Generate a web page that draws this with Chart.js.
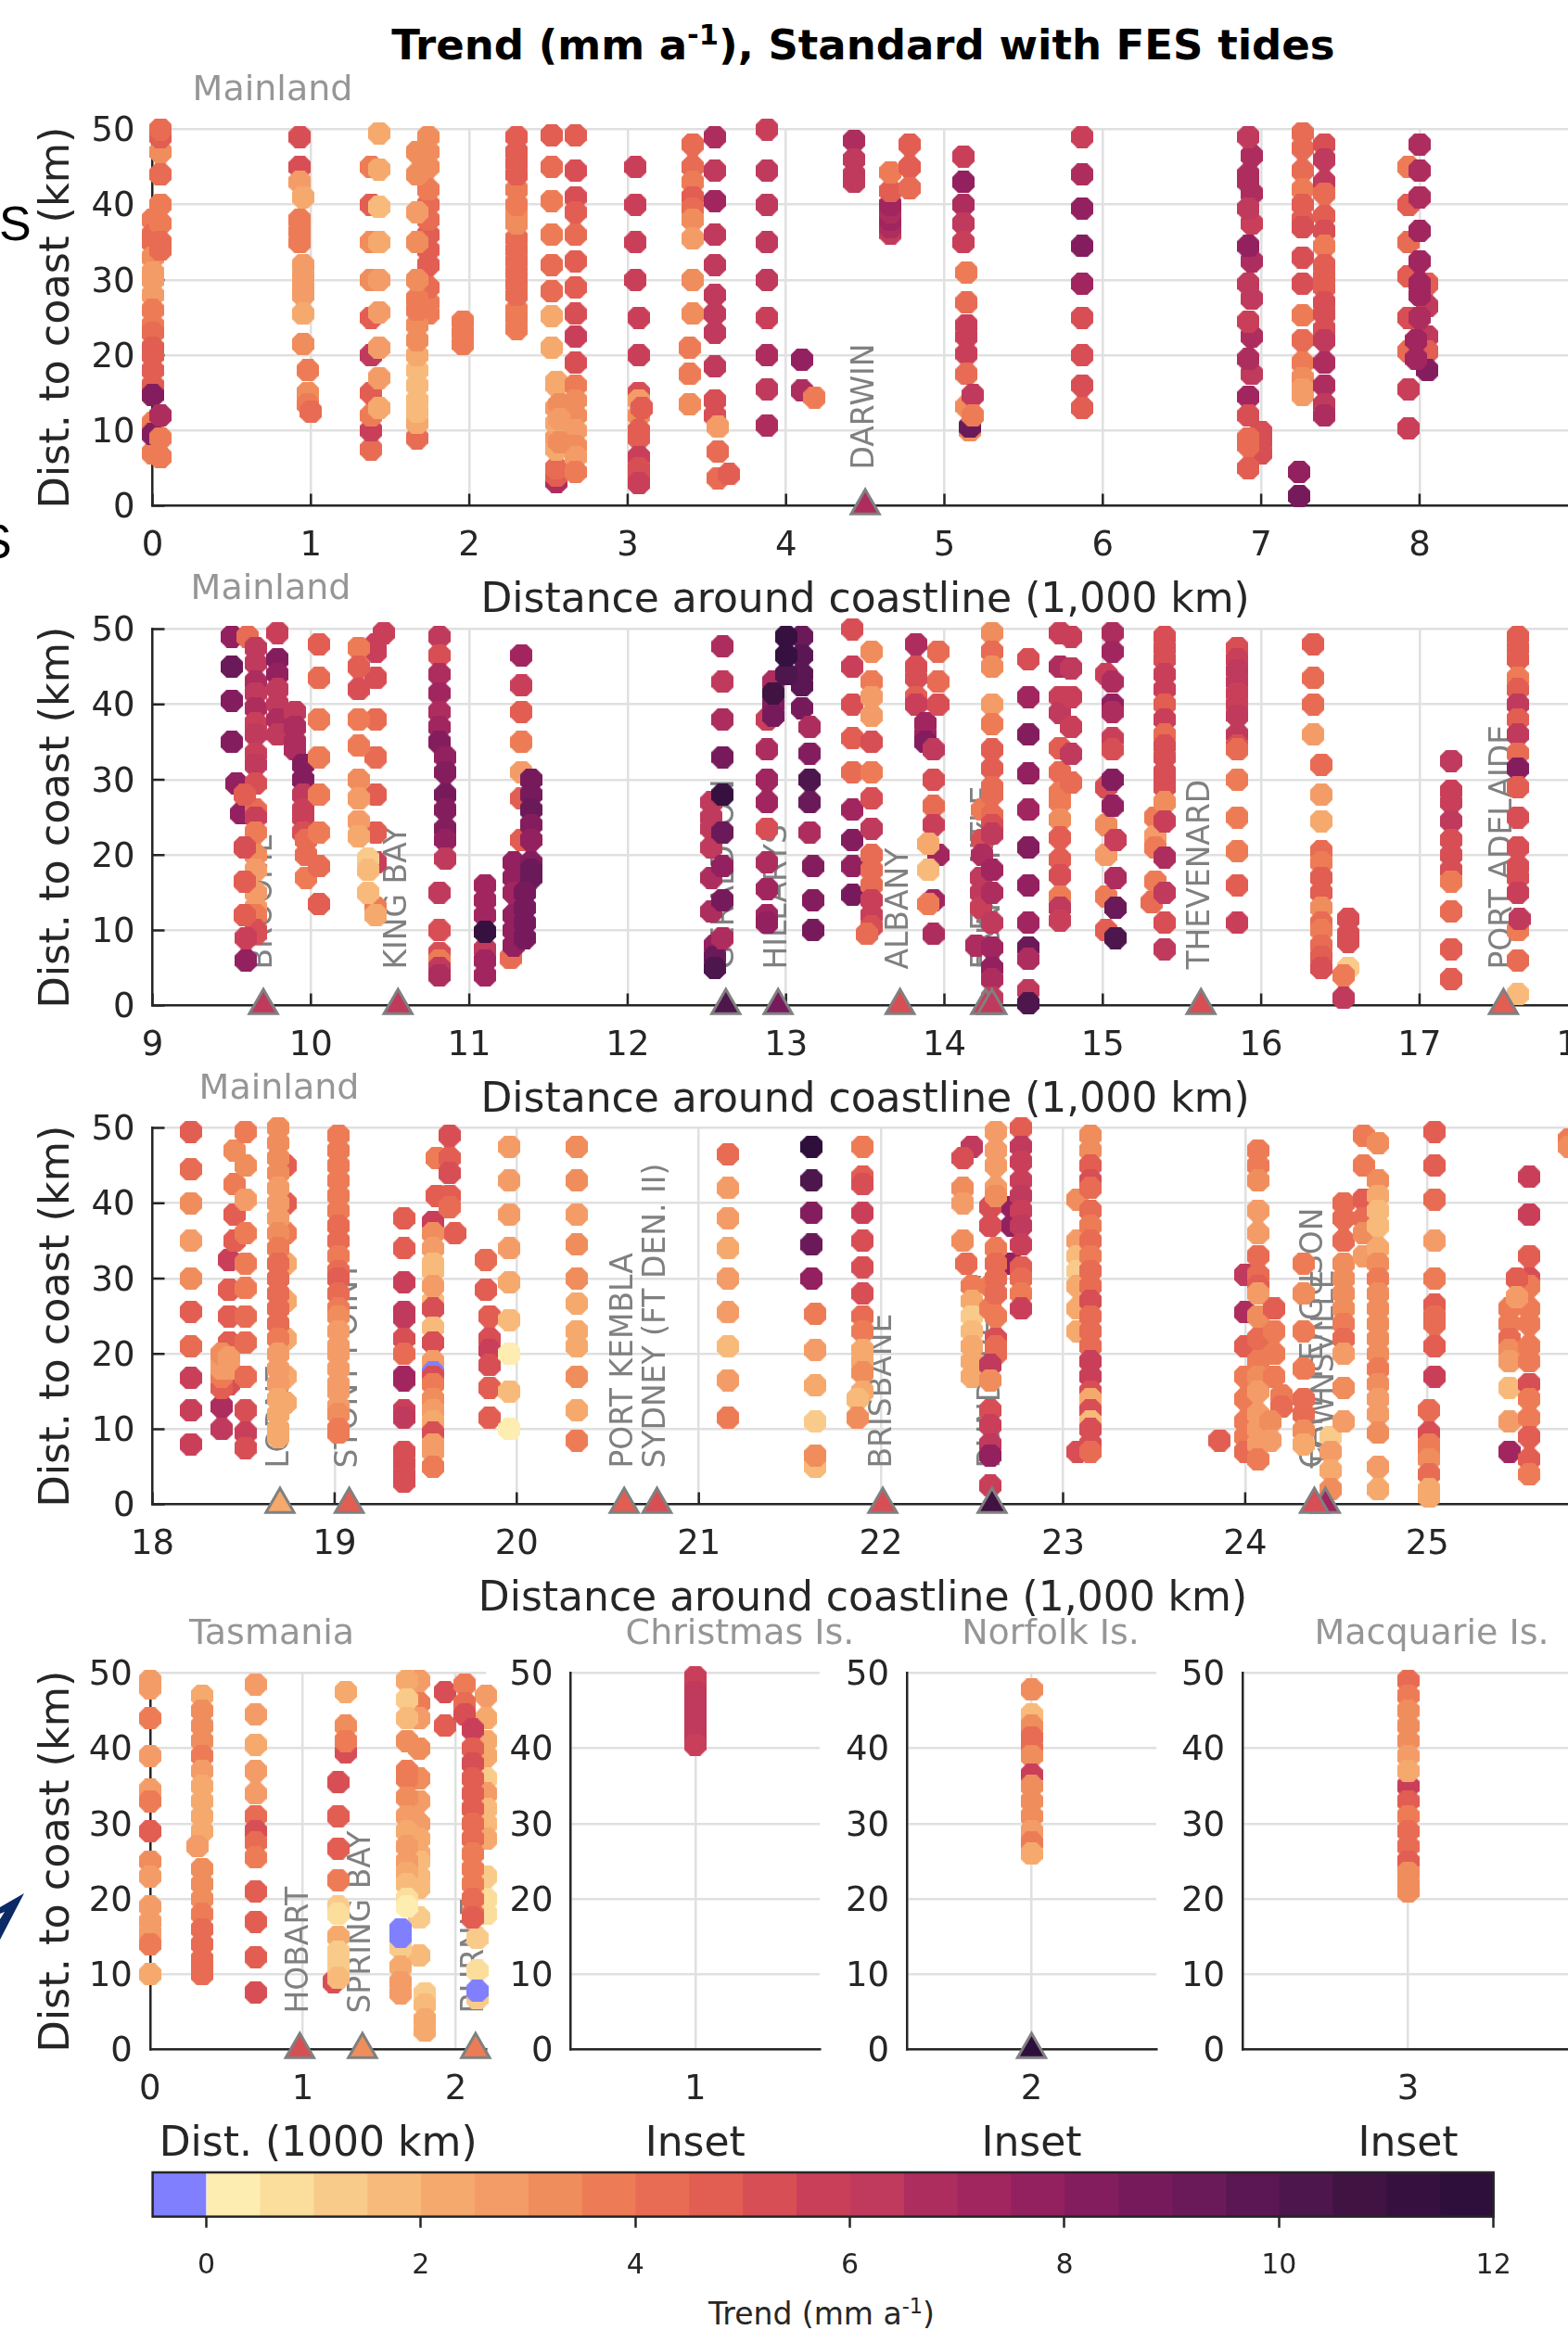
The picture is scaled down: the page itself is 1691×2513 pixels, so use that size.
<!DOCTYPE html>
<html lang="en">
<head>
<meta charset="UTF-8">
<title>Trend (mm a-1), Standard with FES tides</title>
<script src="https://cdn.jsdelivr.net/npm/chart.js@4.4.3/dist/chart.umd.min.js"></script>
<style>
  html, body { margin: 0; padding: 0; background: #fff; overflow: hidden; }
  #page { position: relative; width: 1691px; height: 2513px; overflow: hidden; font-family: 'DejaVu Sans', sans-serif; }
  canvas { position: absolute; }
  .label { position: absolute; white-space: nowrap; line-height: 1; }
  #mainTitle { left: 0; width: 1862px; text-align: center; top: 26px; font-size: 45px; font-weight: 700; color: #000; }
  #mainTitle sup, #trendLabel sup { font-size: 68%; line-height: 0; }
  #trendLabel { left: 0; width: 1772px; text-align: center; top: 2479px; font-size: 33px; color: #262626; }
  .stray { font-family: 'Liberation Sans', sans-serif; font-size: 52px; color: #000; }
</style>
</head>
<body>
<div id="page">
  <div class="label" id="mainTitle">Trend (mm a<sup>-1</sup>), Standard with FES tides</div>
  <div class="label stray" style="left:-1px;top:215px">S</div>
  <div class="label stray" style="left:-22px;top:558px">S</div>
  <svg style="position:absolute;left:0;top:2040px" width="30" height="56"><polygon points="26,2 0,52 0,30 5,22 0,24 0,17" fill="#0b2a66"/></svg>
  <div class="label" id="trendLabel">Trend (mm a<sup>-1</sup>)</div>
  <canvas id="rowA"></canvas>
  <canvas id="rowB"></canvas>
  <canvas id="rowC"></canvas>
  <canvas id="tasmania"></canvas>
  <canvas id="christmas"></canvas>
  <canvas id="norfolk"></canvas>
  <canvas id="macquarie"></canvas>
  <canvas id="colorbar"></canvas>
</div>

<script>
// colour levels, one every 0.5 mm/a, first one is the below-zero blue
const levelStart = -0.5;
const levelStep = 0.5;
const levelColors = ['#8080ff', '#fdedb0', '#fbdd9c', '#f9cb8b', '#f8ba7a', '#f5a96d', '#f49c68', '#f08d5c', '#ed7c56', '#e76c53',
  '#e25d52', '#d74e55', '#c93f59', '#bf3a5c', '#ad2d5e', '#a1255f', '#93205f', '#841d5e', '#771a5c', '#6a1a59',
  '#5a1753', '#4d164c', '#401343', '#36113f', '#2e0f3c'];
const colorbarTicks = [0, 2, 4, 6, 8, 10, 12];
const depthTicks = [0, 10, 20, 30, 40, 50];

// tracks: [distance along coast, depth, trend, depth, trend, ...]
const rowATracks = [
  [0.0, 38,3.6, 36,4.2, 35,4.4, 33,3.2, 31,2.9, 30,2.9, 28,2.7, 26,3.8, 24,3.9, 23,4, 21,4.5, 20,4.6, 18,4.6, 16,4.7, 11,3.6, 7,3.8, 14.7,8, 9.5,8],
  [0.05, 37.5,3.8, 35,4.1, 34,4.1, 40,3.7, 44,4.1, 47,3.3, 49,4.6, 50,4.4, 6.5,3.6, 9,3.5, 12,6.5],
  [0.93, 49,5.2, 45,5.3, 43,2.9, 38,3.9, 36.5,3.9, 35,3.9],
  [0.95, 41,2.4, 32,2.9, 30.5,2.9, 29,2.9, 28,2.9, 25.5,2.4, 21.5,3.2],
  [0.98, 18,3.6, 15,3.4, 13.5,3.6],
  [1.0, 12.5,4.2],
  [1.38, 7.5,4.1, 10,5.8, 12,3.8, 15,4.6, 20,6, 25,4.6, 30,3.3, 35,3.4, 40,4.6, 45,3.6],
  [1.43, 13,2.2, 17,2.6, 21,2.8, 25.7,2.8, 30,2.8, 35,2, 39.7,1.7, 44.7,2.2, 49.5,2.4],
  [1.74, 25.5,3.5, 27,3.6, 29,4, 32,4.5, 34,4.6, 36,4.5, 38,4.2, 40,4, 42,3.7, 45,3.3, 47,3.3, 49,3.2],
  [1.67, 9,4, 11,2, 12.5,1.9, 14,1.9, 16,1.9, 18,1.9, 20,2.4, 22,3, 24,3.2, 26,3.6, 27.5,3.6, 30,3, 35,3, 39,2.5, 44,3.2, 47,3.2],
  [1.96, 21.5,3.7, 23,3.7, 24.5,3.7],
  [2.3, 23.5,3.5, 25,3.5, 26,3.5, 28,4.4, 29.5,4.4, 31,4.4, 32.5,4.4, 34,4.4, 35.5,4.4, 37.5,3.2, 38.5,3.2, 40,3.7, 42,3.7, 44,4.6, 45.5,4.6, 47,4.6, 49,4.6],
  [2.52, 49.2,4.7, 45,4.3, 40.5,3.9, 36,3.9, 32,4.1, 28.5,4.1, 25.2,2.4, 21,2.3],
  [2.55, 3.2,6.6, 4,4.5, 5,4.3, 7.5,2.1, 9,2.6, 11,2.4, 13,2.7, 16,2.3, 16.5,2.3],
  [2.67, 49.2,4.8, 44.5,5.2, 41,5, 39,4.5, 36,4, 32.5,4.5, 29,4.8, 25.5,5, 22.5,5.6, 19,5, 16,3.8, 14,3.2, 12,3, 10,2.6, 8,3.3, 6.5,2.6, 4.5,3.5],
  [2.57, 13.5,3.1, 11.5,2.7, 8.5,3],
  [3.05, 45,5.8, 40,5.8, 35,5.8, 30,5.9],
  [3.07, 25,5.8, 20,5.7, 15,5, 14,2.8, 12,3, 10,4.9, 9,4.7, 6.5,5.8, 5,5, 4,5.1, 3,5.5],
  [3.09, 13,4.5],
  [3.41, 48,4.1, 45,4.1, 43,3.9, 41,4.5, 39.5,4, 38,3, 35.5,2.8, 30,3.2, 25.5,3],
  [3.39, 21,3.5, 17.5,3.5, 13.5,3.2],
  [3.55, 49,6.5, 44.5,6.4, 40.5,7, 36,6.2, 32,6.4, 28,6, 25.5,6, 23,6, 18.5,6, 14,5, 12,5],
  [3.57, 10.5,2.8, 7.2,4.3, 3.7,4.3],
  [3.64, 4.2,4.8],
  [3.88, 50,5.6, 44.5,6, 40,6, 35,6, 30,6.1, 25,5.5, 20,6.5, 15.5,6, 10.7,6.5],
  [4.1, 19.4,7.5, 15.3,6.5],
  [4.18, 14.4,3.6],
  [4.43, 48.5,6.5, 46,6, 44,6, 43,6.2],
  [4.66, 36.2,6, 37,6.8, 38,7, 39,6.9, 40,7, 41.8,4.8, 44.3,3.7],
  [4.78, 48,4.7, 45,4.6, 42.2,4.4],
  [5.12, 46.4,5.7, 43,7.5, 40,6.5, 37.5,6, 35,5.8],
  [5.14, 31,3.6, 27,4.2, 24,5.5, 22.5,5.5, 20.2,5.7, 17.5,4.4, 13.2,3],
  [5.16, 10,3, 10.5,9],
  [5.18, 14.7,6.2, 12,3.8],
  [5.87, 49,5.8, 44,6.7, 39.5,7.5, 34.5,8.2, 29.5,7, 25,5.2, 20,5.4, 16,5.4, 13,4.7],
  [6.94, 46.5,6.5, 41.5,6.5, 37.5,5.8, 32.5,6.5, 27.5,6, 22.5,6.5, 17.5,6],
  [7.0, 9.8,5.2, 8.5,5.2, 7,5.2],
  [6.92, 49,6, 44,6.5, 43,6.5, 39.5,6, 34.5,7.5, 29.5,6, 24.5,5.7, 19.5,6.5, 14.5,7, 12,5, 9,4.2, 8,4, 5,4.5],
  [7.26, 49.5,4, 47.5,4.4, 44.5,4.3, 42,3.9, 40,4.8, 38,4.6, 37,5.2, 33,5.2, 29.5,5, 25.3,3.8, 22,4.2, 19,3.8, 17,3, 15.5,2.9, 14.7,2.9],
  [7.24, 4.5,7.5, 1.3,8.5],
  [7.4, 48,5.3, 46,6, 43,6.4, 41.5,4.4, 38.5,4.8, 36.5,5, 34.5,3.9, 32,4.7, 30.5,4.7, 29,4.7, 27,5, 25.5,5, 23.5,5, 22,6, 19,6.8, 16,6.8, 13.5,6.2, 12,6.8],
  [7.93, 45,3.9, 40,4.6, 35,4.4, 30.5,4.6, 25,5, 20.5,4.3, 15.5,5.5, 10.3,5.7],
  [8.05, 29.5,4.5, 26.5,6, 22.5,6, 20.5,4.7, 18,8.2],
  [8.0, 48,6.6, 44.5,6.7, 41,6.7, 36.5,7, 32.5,7, 29.5,7, 28,7, 25,6.8],
  [7.98, 22,7, 19.5,7]
];
const rowBTracks = [
  [9.5, 49,7.9, 45,9, 40.5,8, 35,8],
  [9.53, 29.5,7.5],
  [9.56, 25.5,7.5],
  [9.6, 49,4.2],
  [9.65, 47.5,6.2, 45.5,6.2, 43,6.5, 41.5,6, 39.5,6.5, 37.5,5.5, 36,6, 33.5,5.9, 32,6, 29.5,5, 26,4.2, 25,5.5, 23,3.8, 20,3.3, 18,2.9, 15,2.5, 13,2.6, 12,3.7, 10,5, 9.5,5],
  [9.58, 28,4.7, 21,5, 16.5,4.6, 12,4.5],
  [9.59, 9,5.5, 6,7.5],
  [9.79, 49.5,5.5, 46,8, 44,7.8, 42,6, 40,6.2, 38,6.5, 36,6.3],
  [9.9, 39,6.3, 37,6.5, 35,6.6, 34,6.5],
  [9.95, 32,8, 30,8, 28,6, 26,5.9, 25,5.7, 23,5],
  [9.97, 22,4.2, 20,4.2, 17,3.5],
  [10.05, 48,4.7, 43.5,4.3, 38,3.8, 33,3.8, 28,3.9, 23,3.7, 18.5,4.2, 13.5,4.8],
  [10.41, 48,5.5, 47,5.5, 43.5,5, 38,4, 33,4.3, 28,4.8, 23,4.8, 19,5.5, 13,3.5, 12,2],
  [10.46, 49.5,5.6],
  [10.3, 47.5,3.8, 45,4.7, 42,5, 38,3.5, 34.5,3.8, 30,3.2, 27.5,2.7, 24.5,2.8, 22.5,2.3],
  [10.36, 19.5,1.3, 18,1.9, 15,1.7],
  [10.81, 49,6, 46.5,5, 44,6.5, 41.5,7, 39,6.8, 37,7, 35,8.3],
  [10.85, 33,7.8, 31,8.3, 28,8.5, 26,8.3, 23.5,8, 22,7.5, 19.5,6],
  [10.81, 15,6, 10,5.2, 7,5.3, 6,3.8, 5,6, 4,6.5],
  [11.33, 46.5,7, 42.5,5.8, 39,4.8, 35,3.6, 31,2.7, 27.5,4.6, 22,4.7],
  [11.1, 16,7, 14,7, 12,7, 7.5,6, 6,7, 4,7.3, 9.8,11],
  [11.26, 6.3,4.4],
  [11.28, 19,7.5, 17,7.5, 15,7.3, 12,7.5, 10,7.5, 8,7.5],
  [11.39, 30,8.8, 28,8.8, 26,9.2, 24,8, 22,7.5, 19,8, 18,9.2, 17,9],
  [11.35, 15,8.5, 13,8.5, 11,8.5, 9,8.5],
  [12.53, 27,6.2, 25,6.3, 23.5,6.3, 21,6.3, 17,6.5, 12.5,6.5],
  [12.55, 8,7.5, 6.5,9, 5,10],
  [12.6, 47.7,6.7, 43,6.2, 38,6.8, 33,8.8, 28,11, 23,9, 18.5,7.8, 14,8.8, 9,6.5],
  [12.88, 38,5.5, 34,6.5, 30,7, 27,7, 23.5,5, 19,6.5, 15.5,7.3, 12,7.3, 11,7.5],
  [12.92, 43,6.9, 40,8, 38.5,8.5, 41.5,10.5],
  [13.1, 49,9, 46.5,9.5, 44,9.5, 42.5,9.5, 39.5,8.5],
  [13.0, 44,10, 46.5,11.3, 49,11],
  [13.15, 37,6.5, 33.5,8, 30,10, 27,9, 23,6.7],
  [13.17, 18.5,8, 14,8, 10,8.7],
  [13.42, 50,5, 45,5.7, 40,5, 35.5,4.7, 31,4.3, 26,7, 22,8, 18.5,7.5, 14.7,8.5],
  [13.54, 47,3.3, 43,3.5, 41,2.7, 38.5,2.9, 35,5, 31,3.5, 27.5,5, 23.5,6, 20,4.4, 18,4.2, 16,4, 14,5.5, 12,5.5, 10.5,5],
  [13.51, 9.5,4.3],
  [13.82, 48,6.8, 45,5, 43.5,5, 41,4.9, 40,5.5],
  [13.88, 37.5,7.2, 36,7, 35,8.2],
  [13.96, 47,4, 43,4.4, 40,5],
  [13.93, 34,6, 30,5.2, 26.5,4, 24,5.5, 14,7, 9.5,6.5],
  [13.96, 20,7],
  [13.9, 21.5,2, 18,1.7, 13.5,3.8],
  [14.24, 26,3.7, 22,5, 20,6.5],
  [14.23, 17,6, 15,6, 13,5.5],
  [14.2, 8,6.5],
  [14.3, 49.5,3, 47,4, 45,3.2, 40,2.8, 37.4,3.5, 34,4.5, 31.5,4.8, 29,4, 28,4, 25.3,4, 24,5, 22.8,6, 18,7, 15,6.8, 11,6, 7.7,7, 5,7.5, 3.5,6.5, 1,6],
  [14.53, 46,5, 41,7.3, 36,8, 30.8,7.5, 26,7, 21,8, 16,7.5, 11,7, 7.7,9, 6.2,6.5, 2,6, 0.3,10],
  [14.73, 49.5,5.5, 45,6.5, 41,5.5, 38.9,6, 34.2,4.8, 31,4.4, 28.3,3.8, 27,3.8, 24.7,3.3, 22.3,4.5, 19.4,4.7, 17.3,5, 14.5,3.5, 13,6, 11.3,5.5],
  [14.8, 49,5.7, 44.8,6, 41,5.7, 37,5.5, 33.4,6, 29.6,4.2],
  [15.02, 44,5.5, 29,5, 24,3, 20,2.5, 14.5,3.7, 10,4.5],
  [15.06, 49.5,6.5, 47,7, 43,6.7, 40,7.5, 39,6.5, 35.5,5.5, 34,5.3, 30,8.2, 26.5,7.5],
  [15.08, 22,5.7, 17,6.5, 13,9, 9,10],
  [15.33, 25,3.6, 22.5,2.5, 21,3.5, 16.5,3.8],
  [15.31, 13.7,4.3],
  [15.39, 49,5.2, 47.5,5.2, 46,5.3, 44,5.5, 42,5.6, 40,4.5, 38,5.5, 36,4, 34.5,5, 33,5, 31,5, 30,5, 29,5, 27,3.2, 24.5,5.8, 19.7,6.5, 15,6, 11,5.2, 7.5,6.3],
  [15.85, 47.5,5, 46,5.8, 44.5,6, 43,6, 41.5,5.8, 40,5.8, 38.5,6, 36,6, 34.5,5.3, 34,4.3, 30,3.9, 25,3.8, 20.5,3.9, 16,4.5, 11,5.5],
  [16.33, 48,4.7, 43.5,4.1, 40,4.2, 36,2.8],
  [16.55, 11.5,5.3, 9.5,5, 8.5,5.2, 5,1],
  [16.38, 32,4.2, 28,2.5, 24.5,2.4, 20.5,4, 19,3.6, 17,4.5, 15,4.5, 13,3.2, 11,4, 10,3.8, 8,4.2, 6.5,4.5, 5,5],
  [16.52, 4,3.8, 1,6.2],
  [17.2, 32.5,6, 28.5,5.5, 27,5.8, 24.5,6.3, 22,5, 20,5, 18,5, 16.5,3.5, 12.5,4, 7.5,4.5, 3.5,4.8],
  [17.62, 49,4.8, 47.5,4.8, 46,4.8, 43.5,3.9, 42,4.5, 40,6, 38,4.8, 36,6, 33.5,4.2, 31.5,8, 29,4.6, 25,5, 21,5, 18.5,5, 17,5.2, 15,5.5, 10,3.6, 6,4.2, 1.5,1.9],
  [17.63, 11.5,6]
];
const rowCTracks = [
  [18.21, 49.5,4.5, 44.5,4, 40,3, 35,2.5, 30,3.2, 25.6,4.9, 21,4.3, 16.8,5.6, 12.5,5.7, 8,5.5],
  [18.42, 16,5, 21.5,4.7, 25,4.5, 28.5,4.7, 32.5,5.5],
  [18.45, 35,4.8, 38.5,4.5, 42.5,3.5, 47,3],
  [18.38, 10,6.4, 13,6.7, 15.5,4.8, 17,3.8, 18,2.5, 19,2.7, 20,3],
  [18.42, 18,2.7, 19.5,2.7],
  [18.51, 49.5,3.5, 45,3.3, 40.5,2.8, 36,3.7, 32,3.7, 28.7,3.7, 25,4, 21.5,4.2, 17,4, 12.5,5.4, 9.5,5.9, 7.5,5],
  [18.73, 45,4.5, 40,4.5, 36,3.8, 32,2, 27,2.2, 22,2, 17,2, 13.5,2],
  [18.69, 50,3.3, 48,3.1, 46,3.1, 44,3, 42,2.9, 40,2.7, 38,2.9, 36,3, 34,3.9, 32,4, 30,4, 28,4, 26,4, 24,4, 22,3.8, 20,2.9, 18,2.5, 16,2.5, 14,2.1, 12,2, 10,2, 9,2],
  [19.02, 49,3.8, 47,3.6, 45,3.6, 43,3.5, 41,3.5, 39,3.8, 37,4, 35,4, 33,3.8, 31,4, 30,4.5, 28,4.2, 26,3.9, 25,3, 23,2.9, 21,2.9, 20,2.9, 18,2.7, 16,2.6, 15,2.5, 13,2.8, 12,3, 10,3.5, 9.5,3.9],
  [19.38, 38,4.8, 34,4.7, 29.5,5.5, 25.6,6, 24.8,6, 22,5, 20,4.3, 17,7.2, 16.5,7.2, 12.5,5.9, 11.5,6, 7,5.2, 5.5,5, 4,5, 3,5],
  [19.54, 37.5,5.5, 36,3.3, 34,2.8, 32,1.6, 31,1.6, 27,1.5, 29,2.5, 26,5.2, 23.5,1.5, 21.5,5, 19,2.5, 17.5,-0.2, 17,5.2, 16,3.5, 14,3, 12.5,2.7, 11,2.2, 9.5,5.2, 8,2.7, 7,2.5, 5,3.7],
  [19.56, 46,3.8, 41,4.5],
  [19.63, 49,5, 46,4.8, 44,5.2, 41,4.5, 39.5,4],
  [19.66, 36,4.5],
  [19.83, 32.5,4.4, 28.5,4.6],
  [19.85, 25,4.6, 22,5, 20.5,5.5, 18.5,5, 15.5,4.8, 11.5,4.5],
  [19.96, 47.5,2.6, 43,2.5, 38.5,2.5, 34,2.6, 29.5,2.2, 24.5,1.9, 20,0.4, 15,1.8, 10,0.2],
  [20.33, 47.5,3.4, 43,3.2, 38.5,2.9, 34.5,3.1, 30,3.2, 26.7,2.3, 23,2, 21,2, 17,3, 12.5,2.4, 8.5,3.5],
  [21.16, 46.5,4.4, 42,2.9, 38,2.6, 34,2.2, 30,2.6, 25.5,2.5, 21,1.8, 16.5,2.5, 11.5,3.7],
  [21.62, 47.5,11.5, 43,10.3, 38.7,8, 34.5,9, 30,7.6],
  [21.64, 25.3,3.9, 20.5,2.9, 15.8,2.3, 11,1, 5,1.9, 6.5,3],
  [21.9, 47.5,3.8, 43.5,4.7, 42.5,5.3, 38.7,5.6, 35,5.3, 31.5,5.4, 28,5.4, 25,4.3, 23,3.8, 20.5,2.2, 19,2.4, 17.5,3.2, 15,2.1],
  [21.87, 14,1.8, 11.5,3],
  [22.72, 39.5,7.5, 37,7.5, 32,7.5],
  [22.5, 47.5,6.2, 29,3.5, 27,2, 25,1.2, 23,1.7, 21,2.1, 19,2.2, 17,2.3],
  [22.45, 46,5, 42,3, 40,2.7, 35,3],
  [22.47, 32,4],
  [22.77, 50,4.5, 47.5,6, 45.5,5.5, 43,5.8, 41,6, 39,5.5, 37,6, 34.5,5.5, 31.5,4.8, 30,4.1, 28,3.9, 26,5.8],
  [22.6, 39.5,5, 37,5, 29,3.8, 26,3.8, 12.5,5.2, 10.5,5.5, 8,6, 6.5,7.5, 2.5,5.5],
  [22.63, 49.5,2.9, 47,2.9, 45,2.9, 42,2.7, 41,3.4, 34,3.8, 32,4, 30,4.3, 28,4, 25,3.8, 22,5.2, 21,4, 20,4.2],
  [22.6, 18.5,6.2, 16.5,3.2],
  [23.08, 40.5,3, 35,2.7, 33,1.6, 31,1.2, 29,2.4, 26,2, 23,2.4, 7,5.2],
  [23.15, 49,3.4, 47,3.4, 45,4.5, 43,5, 42,4, 39,4.2, 37,3.7, 35,4, 33,3.8, 31,4, 29,4.2, 27,5, 25,4.3, 23,4.1, 21,4.2, 19,5.5, 17,5.5, 15,5.3, 14,2.3, 12.5,5.2, 11,1.9, 10,5, 8,5, 7,4],
  [24.0, 30.5,6, 25.5,6.5, 21,4.8, 17,3.6, 14,3.5, 11,3.5, 9,3.7, 7,4.1],
  [23.86, 8.5,4.7],
  [24.07, 47,3.8, 45,3.6, 43,3.2, 39,2.5, 36,2.9, 33,4.2, 30.5,4.2, 29,4.5, 28,2.7, 25,3.2, 22,4, 19,3.5, 17,3, 15,2.9, 12,2.6, 10,2.7, 8,2.7, 6,3.6],
  [24.16, 26,4.8, 23,3.8, 20,3.7, 17,3.5],
  [24.2, 14.5,3.8, 13,4],
  [24.14, 11,3, 8.5,2.6],
  [24.32, 32,3.5, 28,3, 23,3.7, 18,3.9, 14,4.2, 12,4, 9.8,3, 8,2.3],
  [24.47, 9,1.4, 7,2.8, 4.5,2, 2,3.4],
  [24.54, 40,4, 38,4, 35,4.2, 32,3, 30,3, 28,3, 26,3, 24,3.8, 22,4, 20,2.8, 15.5,3, 11,2.6],
  [24.65, 49,3.7, 45,3.8, 40.5,4.7, 38,4, 36,3.2, 33,2.5],
  [24.73, 48,3, 43,3, 41,2, 39,1.6, 37,1.9, 34,2.2, 32,3, 30,3.5, 28,3, 26,3.3, 24,3.4, 22,3.4, 20,3.2, 18,3.5, 16,3.3, 14,2.8, 12,2.5, 9.5,3.3, 5,2.7, 2,2.2],
  [25.04, 49.5,4.6, 45,4.6, 40.5,4.3, 35,2.7, 30,3.8, 26.5,4.5, 25,4.4, 24,4.4, 21,4.5, 17,5.8],
  [25.01, 12.5,4.4, 9.5,5, 8,3.5, 7,3.5, 6,3, 4,4, 2,2.2, 1,2],
  [25.45, 26,3.5, 24,3.7, 22,4.2, 20.5,3, 19,2.8, 15.5,1.6, 11,2.5, 7,7],
  [25.56, 43.5,5.7, 38.5,5.7, 33,4.7, 30,5, 29,3.5, 26,3.5, 24,3.7, 21,3.7, 19,3.8, 16,5, 14,3.8, 11.5,3.9, 9,4.9, 6,4.5, 4,3.7],
  [25.49, 30,4.5, 27.5,2.8],
  [25.78, 48.5,3.5, 47.5,3]
];
const tasmaniaTracks = [
  [0.0, 49,2.6, 48,2.7, 44,3.6, 39,2.7, 34.5,2.7, 33,3.8, 29,4.5, 25,3, 23,2.9, 19,2.6, 17,2.8, 15.5,2.8, 14,3.5, 10,2.3],
  [0.34, 47,2.1, 45,3, 43,3, 41,3.1, 39,3.7, 37,2.9, 35,2.4, 33,2.4, 31,2.4, 29,2.4, 24,3.1, 22,3, 20,3, 18,3.5, 16,4.2, 14,4.2, 12,4.2, 11,4.2, 10,4],
  [0.31, 27,2.8],
  [0.69, 48.5,2.9, 44.5,2.8, 40.5,2.4, 37,2.5, 34,2.6, 31,4, 29,5, 27.5,4.4, 25.5,3.7, 21,4.5, 17,4.6, 12.3,4.5, 7.6,5.1],
  [1.28, 47.5,2.4, 43,3, 39.5,5, 41,3.6],
  [1.2, 9,5],
  [1.23, 35.5,5, 31,4.5, 26.7,4.5, 22.5,3.7, 19,1.4, 18,0.5, 15,2, 13,1.4, 11.5,1.4, 10,1.4, 9.5,1.9],
  [1.76, 49,2.6, 46,3.6, 44,2.9, 40,3, 36,3.3, 33,2.6, 30,2.5, 28,2.4, 26,2.3, 25,1.6, 23,1.5, 21.5,1.7, 17.5,1.4, 12.5,1.7],
  [1.68, 49,2.1, 46.5,1.4, 44,1.8, 41,3.2, 37,3.9, 36,3.8, 33.5,3, 31,2.6, 29,2.4, 27,2.6, 25,2.5, 23.5,2.3, 22,1.5, 20,0.9, 19,0.4],
  [1.64, 13.5,1, 11,2.2, 9,2.5, 7.5,2.7, 16,-0.2, 15,-0.2],
  [1.8, 7.5,1.4, 6,1.5, 4,2, 2.5,2],
  [1.93, 47.5,5.3, 43,4.7],
  [2.2, 47,2.9, 44,2.2, 41,2.4, 39,2.4, 36,1, 34,2.8, 32,1.7, 30,1.7, 28,2.4, 23,1.4, 20,0.9, 18,0.9],
  [2.14, 14.8,1.3, 10.5,0.6, 6.8,1.2, 7.8,-0.2],
  [2.06, 48.5,3.8, 46,4, 44.5,5],
  [2.11, 42.5,5.8, 40,4.8, 38,5, 36,4.8, 34,4.6, 32,4.6, 30,4, 28,4, 26,3.8, 24,3.8, 22,3.8, 20,4.1, 18,4.1, 17.5,4.5]
];
const christmasTracks = [[1, 49.5,5.7, 48.5,5.7, 47.5,6, 46.5,6, 45.5,6, 44.5,6.2, 43.5,6.2, 42.5,6.3, 41.5,6.3, 40.5,5.5]];
const norfolkTracks = [[2, 47.8,3, 44.5,1.8, 43,3, 41.5,4.1, 40,4, 39,3.3, 36.5,5.5, 35,3.2, 33,3.3, 31,3.2, 29,2.8, 27.5,3.5, 26,2.3]];
const macquarieTracks = [[3, 49,4, 47,3.8, 45,3.4, 43,3, 41,3, 39,2.9, 35,5.5, 37,2, 33,4.7, 31,3.7, 29,4, 27,4, 25,4.5, 23.5,3, 22,3, 21,3]];

// tide gauges
const rowANames = ['DARWIN'];
const rowADist = [4.5];
const rowATrend = [6.7];
const rowBNames = ['BROOME', 'KING BAY', 'GERALDTON', 'HILLARYS', 'ALBANY', 'FREMANTLE', 'BUNBURY', 'THEVENARD', 'PORT ADELAIDE'];
const rowBDist = [9.7, 10.55, 12.62, 12.95, 13.72, 14.26, 14.3, 15.62, 17.53];
const rowBTrend = [6, 6, 10, 8.6, 5.3, 5.5, 6, 5.3, 4.8];
const rowCNames = ['LORNE', 'STONY POINT', 'PORT KEMBLA', 'SYDNEY (FT DEN. II)', 'BRISBANE', 'BUNDABERG', 'TOWNSVILLE', 'CAPE FERGUSON'];
const rowCDist = [18.7, 19.08, 20.59, 20.77, 22.01, 22.61, 24.44, 24.38];
const rowCTrend = [2.1, 4.9, 4.9, 5, 5, 10.5, 7, 5.1];
const tasmaniaNames = ['HOBART', 'SPRING BAY', 'BURNIE'];
const tasmaniaDist = [0.98, 1.39, 2.13];
const tasmaniaTrend = [5.1, 3, 3.8];

const DARK = '#262626';
const GRID = '#e0e0e0';
const GREY_TEXT = '#808080';
const PANEL_TEXT = '#969696';
const FONT = "'DejaVu Sans', sans-serif";

function trendColor(t) {
  const i = Math.floor((t - levelStart) / levelStep);
  return levelColors[Math.max(0, Math.min(levelColors.length - 1, i))];
}

// the markers in the picture are blocky octagons, not round dots
const markerCache = {};
function octagonMarker(color) {
  if (markerCache[color]) return markerCache[color];
  const size = 24;
  const cut = 6.5;
  const c = document.createElement('canvas');
  c.width = size;
  c.height = size;
  const g = c.getContext('2d');
  g.fillStyle = color;
  g.beginPath();
  g.moveTo(cut, 0);
  g.lineTo(size - cut, 0);
  g.lineTo(size, cut);
  g.lineTo(size, size - cut);
  g.lineTo(size - cut, size);
  g.lineTo(cut, size);
  g.lineTo(0, size - cut);
  g.lineTo(0, cut);
  g.closePath();
  g.fill();
  markerCache[color] = c;
  return c;
}

function flatten(tracks) {
  const pts = [];
  tracks.forEach(tr => {
    for (let i = 1; i < tr.length; i += 2) pts.push({ x: tr[0], y: tr[i], t: tr[i + 1] });
  });
  return pts;
}

function makePanel(id, o) {
  const canvas = document.getElementById(id);
  const plotH = 406;
  const marginBottom = 129.4;
  const height = Math.round(o.plotTop + plotH + marginBottom);
  canvas.width = o.width;
  canvas.height = height;
  canvas.style.left = o.left + 'px';
  canvas.style.top = o.top + 'px';
  canvas.style.width = o.width + 'px';
  canvas.style.height = height + 'px';

  const pts = flatten(o.tracks);
  const names = o.names || [];
  const dist = o.dist || [];
  const trend = o.trend || [];

  const extras = {
    id: 'extras',
    beforeDatasetsDraw(chart) {
      const { ctx, scales: { x, y } } = chart;
      ctx.save();
      // panel name
      ctx.font = `38px ${FONT}`;
      ctx.fillStyle = PANEL_TEXT;
      ctx.textAlign = 'center';
      ctx.textBaseline = 'middle';
      ctx.fillText(o.panelName, o.nameX, o.nameY);
      // inward ticks, matlab style
      if (o.innerTicks) {
        ctx.strokeStyle = DARK;
        ctx.lineWidth = 2.5;
        ctx.beginPath();
        o.xTicks.forEach(v => {
          ctx.moveTo(x.getPixelForValue(v), y.bottom);
          ctx.lineTo(x.getPixelForValue(v), y.bottom - 13);
        });
        depthTicks.forEach(v => {
          ctx.moveTo(x.left, y.getPixelForValue(v));
          ctx.lineTo(x.left + 13, y.getPixelForValue(v));
        });
        ctx.stroke();
      }
      // gauge names run up from just above the triangles
      ctx.font = `33px ${FONT}`;
      ctx.fillStyle = GREY_TEXT;
      ctx.textAlign = 'left';
      names.forEach((name, i) => {
        ctx.save();
        ctx.translate(x.getPixelForValue(dist[i]), y.getPixelForValue(4.8));
        ctx.rotate(-Math.PI / 2);
        ctx.fillText(name, 0, 0);
        ctx.restore();
      });
      ctx.restore();
    }
  };

  new Chart(canvas, {
    type: 'scatter',
    data: {
      datasets: [
        {
          data: dist.map((d, i) => ({ x: d, y: 0 })),
          pointStyle: 'triangle',
          pointRadius: 17.5,
          pointBackgroundColor: trend.map(trendColor),
          pointBorderColor: GREY_TEXT,
          pointBorderWidth: 3,
          clip: false
        },
        {
          data: pts,
          pointStyle: pts.map(p => octagonMarker(trendColor(p.t))),
          pointRadius: 12,
          pointBorderWidth: 0,
          clip: false
        }
      ]
    },
    options: {
      responsive: false,
      animation: false,
      devicePixelRatio: 1,
      events: [],
      layout: { autoPadding: false, padding: { top: o.plotTop, right: o.width - o.plotRight, left: 0, bottom: 0 } },
      plugins: { legend: { display: false }, tooltip: { enabled: false } },
      scales: {
        x: {
          type: 'linear',
          min: o.xMin,
          max: o.xMax,
          afterBuildTicks: s => { s.ticks = o.xTicks.map(v => ({ value: v })); },
          afterFit: s => { s.height = marginBottom; },
          border: { color: DARK, width: 2.5 },
          grid: { color: GRID, lineWidth: 2.5, drawTicks: false },
          ticks: { color: DARK, font: { family: FONT, size: 37 }, padding: 22, maxRotation: 0, autoSkip: false, callback: v => String(v) },
          title: { display: true, text: o.xLabel, color: DARK, font: { family: FONT, size: 44 }, padding: 0 }
        },
        y: {
          type: 'linear',
          min: 0,
          max: 50,
          afterBuildTicks: s => { s.ticks = depthTicks.map(v => ({ value: v })); },
          afterFit: s => { s.width = o.plotLeft; },
          border: { color: DARK, width: 2.5 },
          grid: { color: GRID, lineWidth: 2.5, drawTicks: false },
          ticks: { color: DARK, font: { family: FONT, size: 37 }, padding: 19, labelOffset: 3, autoSkip: false, callback: v => String(v) },
          title: { display: !!o.yLabel, text: o.yLabel || '', color: DARK, font: { family: FONT, size: 44.5 }, padding: { top: 36, bottom: 0 } }
        }
      }
    },
    plugins: [extras]
  });
}

const rowLabel = 'Distance around coastline (1,000 km)';
const yLabel = 'Dist. to coast (km)';

makePanel('rowA', { left: 0, top: 0, width: 1760, plotLeft: 164.5, plotRight: 1701.7, plotTop: 139.5, xMin: 0, xMax: 9,
  xTicks: [0, 1, 2, 3, 4, 5, 6, 7, 8, 9], tracks: rowATracks, names: rowANames, dist: rowADist, trend: rowATrend,
  xLabel: rowLabel, yLabel, panelName: 'Mainland', nameX: 294, nameY: 98, innerTicks: true });
makePanel('rowB', { left: 0, top: 600, width: 1760, plotLeft: 164.5, plotRight: 1701.7, plotTop: 78.5, xMin: 9, xMax: 18,
  xTicks: [9, 10, 11, 12, 13, 14, 15, 16, 17, 18], tracks: rowBTracks, names: rowBNames, dist: rowBDist, trend: rowBTrend,
  xLabel: rowLabel, yLabel, panelName: 'Mainland', nameX: 292, nameY: 36, innerTicks: true });
makePanel('rowC', { left: 0, top: 1140, width: 1760, plotLeft: 164.5, plotRight: 1696.4, plotTop: 76.5, xMin: 18, xMax: 25.8,
  xTicks: [18, 19, 20, 21, 22, 23, 24, 25], tracks: rowCTracks, names: rowCNames, dist: rowCDist, trend: rowCTrend,
  xLabel: rowLabel, yLabel, panelName: 'Mainland', nameX: 301, nameY: 35, innerTicks: true });
makePanel('tasmania', { left: 0, top: 1740, width: 560, plotLeft: 161.8, plotRight: 524.4, plotTop: 64.5, xMin: 0, xMax: 2.2,
  xTicks: [0, 1, 2], tracks: tasmaniaTracks, names: tasmaniaNames, dist: tasmaniaDist, trend: tasmaniaTrend,
  xLabel: 'Dist. (1000 km)', yLabel, panelName: 'Tasmania', nameX: 293, nameY: 23 });
makePanel('christmas', { left: 515, top: 1740, width: 440, plotLeft: 100.5, plotRight: 369, plotTop: 64.5, xMin: 0.5, xMax: 1.5,
  xTicks: [1], tracks: christmasTracks, xLabel: 'Inset', panelName: 'Christmas Is.', nameX: 283, nameY: 23 });
makePanel('norfolk', { left: 878, top: 1740, width: 420, plotLeft: 100, plotRight: 369, plotTop: 64.5, xMin: 1.5, xMax: 2.5,
  xTicks: [2], tracks: norfolkTracks, names: [], dist: [2], trend: [11.8], xLabel: 'Inset', panelName: 'Norfolk Is.', nameX: 255, nameY: 23 });
makePanel('macquarie', { left: 1240, top: 1740, width: 520, plotLeft: 100, plotRight: 457, plotTop: 64.5, xMin: 2.5, xMax: 3.5,
  xTicks: [3], tracks: macquarieTracks, xLabel: 'Inset', panelName: 'Macquarie Is.', nameX: 304, nameY: 23 });

// colour bar: one floating bar per level
(function () {
  const canvas = document.getElementById('colorbar');
  const top = 2300;
  const height = 170;
  canvas.width = 1691;
  canvas.height = height;
  canvas.style.left = '0px';
  canvas.style.top = top + 'px';
  canvas.style.width = '1691px';
  canvas.style.height = height + 'px';
  const lastEdge = levelStart + levelStep * levelColors.length;
  new Chart(canvas, {
    type: 'bar',
    data: {
      labels: ['trend'],
      datasets: levelColors.map((c, i) => ({
        data: [[levelStart + i * levelStep, levelStart + (i + 1) * levelStep]],
        backgroundColor: c,
        borderWidth: 0,
        borderSkipped: false,
        grouped: false,
        barPercentage: 1,
        categoryPercentage: 1
      }))
    },
    options: {
      indexAxis: 'y',
      responsive: false,
      animation: false,
      devicePixelRatio: 1,
      events: [],
      layout: { autoPadding: false, padding: { top: 43, left: 164.6, right: 80.3, bottom: 0 } },
      plugins: { legend: { display: false }, tooltip: { enabled: false } },
      scales: {
        x: {
          type: 'linear',
          min: levelStart,
          max: lastEdge,
          afterBuildTicks: s => { s.ticks = colorbarTicks.map(v => ({ value: v })); },
          afterFit: s => { s.height = height - 90.7; },
          border: { display: false },
          grid: { drawOnChartArea: false, tickLength: 12, tickColor: DARK, tickWidth: 2.5 },
          ticks: { color: DARK, font: { family: FONT, size: 30 }, padding: 24, maxRotation: 0, autoSkip: false, callback: v => String(v) }
        },
        y: { type: 'category', display: false }
      }
    },
    plugins: [{
      id: 'frame',
      afterDatasetsDraw(chart) {
        const { ctx, chartArea: a } = chart;
        ctx.save();
        ctx.strokeStyle = DARK;
        ctx.lineWidth = 2.5;
        ctx.strokeRect(a.left, a.top, a.right - a.left, a.bottom - a.top);
        ctx.restore();
      }
    }]
  });
})();
</script>
</body>
</html>
